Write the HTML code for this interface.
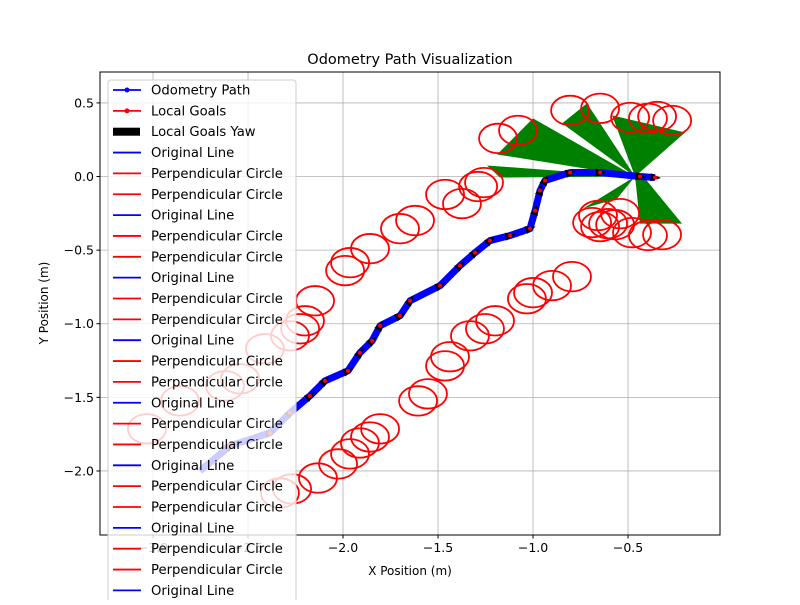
<!DOCTYPE html>
<html><head><meta charset="utf-8"><style>
body{margin:0;background:#fff;}
svg text{font-family:"DejaVu Sans","Liberation Sans",sans-serif;}
</style></head><body>
<svg id="chart" width="800" height="600" xmlns="http://www.w3.org/2000/svg">
<g id="grid"></g>
<g id="marks"></g>
<rect x="100" y="72" width="620" height="463" fill="none" stroke="#000" stroke-width="1"/>
<g id="ticks"></g>
<text x="410" y="64" font-size="14.5" text-anchor="middle">Odometry Path Visualization</text>
<text x="410" y="575" font-size="12" text-anchor="middle">X Position (m)</text>
<text x="48" y="303" font-size="12" text-anchor="middle" transform="rotate(-90 48 303)">Y Position (m)</text>
<g id="legend"></g>
</svg>
<script>
const xTicks=[-3.0,-2.5,-2.0,-1.5,-1.0,-0.5];
const xTickLabels=["\u22123.0","\u22122.5","\u22122.0","\u22121.5","\u22121.0","\u22120.5"];
const yTicks=[0.5,0.0,-0.5,-1.0,-1.5,-2.0];
const yTickLabels=["0.5","0.0","\u22120.5","\u22121.0","\u22121.5","\u22122.0"];
const pathX=[-2.753,-2.595,-2.384,-2.279,-2.174,-2.095,-1.974,-1.911,-1.847,-1.805,-1.7,-1.647,-1.489,-1.384,-1.305,-1.226,-1.121,-1.016,-0.989,-0.963,-0.937,-0.805,-0.647,-0.437,-0.358];
const pathY=[-2.0,-1.83,-1.741,-1.605,-1.49,-1.388,-1.32,-1.197,-1.116,-1.014,-0.946,-0.844,-0.741,-0.605,-0.517,-0.435,-0.401,-0.354,-0.231,-0.095,-0.027,0.027,0.027,0.0,-0.007];
const circleX=[-3.032,-2.858,-2.621,-2.542,-2.411,-2.279,-2.226,-2.2,-2.147,-1.989,-1.963,-1.858,-1.7,-1.621,-1.463,-1.374,-1.289,-1.258,-1.184,-1.079,-0.805,
 -2.332,-2.268,-2.132,-2.026,-1.963,-1.911,-1.858,-1.805,-1.605,-1.553,-1.463,-1.437,-1.332,-1.253,-1.2,-1.032,-1.0,-0.9,-0.795,
 -0.647,-0.489,-0.395,-0.347,-0.268,
 -0.689,-0.647,-0.605,-0.568,-0.542,-0.658,-0.479,-0.395,-0.321];
const circleY=[-1.714,-1.524,-1.422,-1.374,-1.170,-1.082,-1.034,-0.980,-0.844,-0.639,-0.585,-0.490,-0.354,-0.299,-0.122,-0.184,-0.068,-0.041,0.259,0.313,0.449,
 -2.150,-2.122,-2.048,-1.952,-1.884,-1.810,-1.769,-1.714,-1.524,-1.476,-1.286,-1.224,-1.082,-1.034,-0.980,-0.830,-0.789,-0.741,-0.680,
 0.463,0.401,0.395,0.408,0.381,
 -0.313,-0.340,-0.320,-0.327,-0.252,-0.265,-0.381,-0.401,-0.395];
const circleR=0.1;
const yawApex=[-0.463,0.0];
const wedgeX=[[-1.0,-1.189],[-0.716,-0.847],[-1.242,-1.174],[-0.584,-0.2],[-0.41,-0.216,-0.437],[-0.737,-0.558]];
const wedgeY=[[0.395,0.150],[0.497,0.361],[0.075,-0.007],[0.415,0.299],[-0.014,-0.32,-0.32],[-0.218,-0.150]];
const legendLabels=["Odometry Path","Local Goals","Local Goals Yaw","Original Line","Perpendicular Circle","Perpendicular Circle","Original Line","Perpendicular Circle","Perpendicular Circle","Original Line","Perpendicular Circle","Perpendicular Circle","Original Line","Perpendicular Circle","Perpendicular Circle","Original Line","Perpendicular Circle","Perpendicular Circle","Original Line","Perpendicular Circle","Perpendicular Circle","Original Line","Perpendicular Circle","Perpendicular Circle","Original Line"];

const NS="http://www.w3.org/2000/svg";
const X0=-3.279,X1=-0.016,Y0=-2.435,Y1=0.71,L=100,R=720,T=72,B=535;
const sx=v=>L+(v-X0)/(X1-X0)*(R-L);
const sy=v=>B-(v-Y0)/(Y1-Y0)*(B-T);
function mk(tag,attrs,parent){const e=document.createElementNS(NS,tag);for(const k in attrs)e.setAttribute(k,attrs[k]);parent.appendChild(e);return e;}
const grid=document.getElementById('grid'),ticks=document.getElementById('ticks'),marks=document.getElementById('marks'),leg=document.getElementById('legend');
xTicks.forEach((v,i)=>{const x=sx(v);
 let g=mk('line',{x1:x,x2:x,y1:T,y2:B,stroke:'#b0b0b0','stroke-width':0.8},grid);
 
 let t=mk('line',{x1:x,x2:x,y1:B,y2:B+3.5,stroke:'#000'},ticks);
 
 let l=mk('text',{x:x,y:B+17,'font-size':12.5,'text-anchor':'middle'},ticks);l.textContent=xTickLabels[i];
 });
yTicks.forEach((v,i)=>{const y=sy(v);
 let g=mk('line',{x1:L,x2:R,y1:y,y2:y,stroke:'#b0b0b0','stroke-width':0.8},grid);
 
 let t=mk('line',{x1:L-3.5,x2:L,y1:y,y2:y,stroke:'#000'},ticks);
 
 let l=mk('text',{x:L-6,y:y+4.5,'font-size':12.5,'text-anchor':'end'},ticks);l.textContent=yTickLabels[i];
 });
wedgeX.forEach((wx,i)=>{let pts=sx(yawApex[0])+','+sy(yawApex[1]);wx.forEach((v,j)=>{pts+=' '+sx(v)+','+sy(wedgeY[i][j]);});
 let p=mk('polygon',{points:pts,fill:'#008000'},marks);
 });
const rx=sx(circleR)-sx(0),ry=sy(0)-sy(circleR);
circleX.forEach((v,i)=>{let c=mk('ellipse',{cx:sx(v),cy:sy(circleY[i]),rx:rx,ry:ry,fill:'none',stroke:'#ff0000','stroke-width':1.8},marks);
 });
let d=pathX.map((v,i)=>(i?'L':'M')+sx(v)+','+sy(pathY[i])).join(' ');
let pl=mk('path',{d:d,fill:'none',stroke:'#0000ff','stroke-width':7,'stroke-linejoin':'round'},marks);

pathX.forEach((v,i)=>{if(i==0)return;const x=sx(v),y=sy(pathY[i]);const a=Math.atan2(y-sy(pathY[i-1]),x-sx(pathX[i-1]));
 const p1=[x+6*Math.cos(a),y+6*Math.sin(a)],p2=[x+6*Math.cos(a+2.4),y+6*Math.sin(a+2.4)],p3=[x+6*Math.cos(a-2.4),y+6*Math.sin(a-2.4)];
 let ar=mk('polygon',{points:[p1,p2,p3].map(p=>p.join(',')).join(' '),fill:'#000'},marks);
 
 let gd=mk('circle',{cx:x,cy:y,r:2,fill:'#ff0000'},marks);
 });
let bx=mk('rect',{x:108,y:80,width:188,height:540,rx:3,fill:'rgba(255,255,255,0.8)',stroke:'#cccccc'},leg);

legendLabels.forEach((lab,i)=>{const y=90+i*20.85;let col=lab.indexOf('Perp')==0?'#ff0000':(lab=='Local Goals'?'#ff0000':'#0000ff');
 if(lab=='Local Goals Yaw'){let r=mk('rect',{x:113,y:y-4,width:27,height:8,fill:'#000'},leg);}
 else{let ln=mk('line',{x1:113,x2:141,y1:y,y2:y,stroke:col,'stroke-width':1.8},leg);
  if(i<2){let dt=mk('circle',{cx:127,cy:y,r:2.5,fill:col},leg);}}
 let t=mk('text',{x:151,y:y+4.5,'font-size':13.2,fill:'#000'},leg);t.textContent=lab;
 });
</script>
</body></html>
